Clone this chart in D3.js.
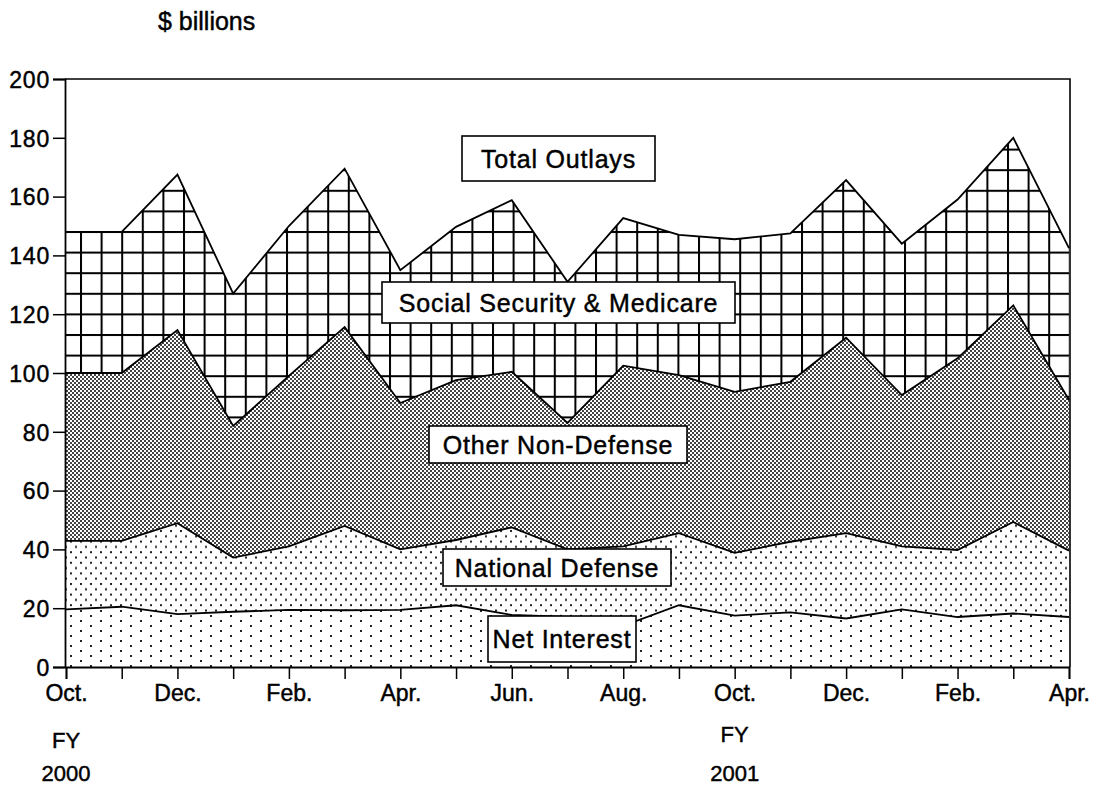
<!DOCTYPE html>
<html>
<head>
<meta charset="utf-8">
<script src="https://cdn.jsdelivr.net/npm/d3@7"></script>
<style>
  html, body { margin: 0; padding: 0; background: #fff; }
  svg { display: block; }
  text { font-family: "Liberation Sans", Arial, Helvetica, sans-serif; fill: #000; stroke: #000; stroke-width: 0.45px; }
</style>
</head>
<body>
<svg id="chart" width="1096" height="785"></svg>
<script>
// ---- Data ----
const months = ["Oct.","Nov.","Dec.","Jan.","Feb.","Mar.","Apr.","May","Jun.","Jul.","Aug.","Sep.",
                "Oct.","Nov.","Dec.","Jan.","Feb.","Mar.","Apr."];
const netInterest      = [19.6,20.5,18.0,18.8,19.4,19.3,19.4,21.0,17.7,17.0,14.0,21.0,17.5,18.6,16.5,19.6,17.0,18.2,17.0];
const nationalDefense  = [23.3,22.4,30.9,18.4,21.6,28.7,20.6,22.2,29.8,23.0,27.0,24.5,21.3,24.0,29.0,21.4,22.8,31.1,22.6];
const otherNonDefense  = [57.1,57.1,65.7,44.8,58.0,67.6,49.8,54.4,52.9,43.0,61.5,53.8,54.8,54.4,66.5,51.5,65.2,73.7,51.2];
const socialSecMed     = [48.0,48.0,52.9,45.0,51.0,53.9,45.2,52.1,58.4,48.0,50.2,47.7,51.9,50.5,53.6,51.5,54.0,57.0,51.7];
const seriesKeys   = ["Net Interest","National Defense","Other Non-Defense","Social Security & Medicare"];
const seriesValues = [netInterest, nationalDefense, otherNonDefense, socialSecMed];
const yTicks = [0,20,40,60,80,100,120,140,160,180,200];
const fyLabels = [["FY","2000"],["FY","2001"]];
const fyIndex = [0, 12];
const yUnit = "$ billions";
const totalLabel = "Total Outlays";

// ---- Build table for d3.stack ----
const table = months.map((m, i) => {
  const row = { i };
  seriesKeys.forEach((k, j) => row[k] = seriesValues[j][i]);
  return row;
});
const stacked = d3.stack().keys(seriesKeys)(table);

// ---- Layout ----
const svg = d3.select("#chart");
const x = d3.scaleLinear().domain([0, months.length - 1]).range([66, 1069]);
const y = d3.scaleLinear().domain([0, 200]).range([667, 79]);

// ---- Patterns ----
const defs = svg.append("defs");
// Net Interest: sparse staggered dots
const pNI = defs.append("pattern").attr("id","pNI").attr("patternUnits","userSpaceOnUse")
  .attr("width",20).attr("height",10);
pNI.append("rect").attr("width",20).attr("height",10).attr("fill","#fff");
pNI.append("rect").attr("x",0).attr("y",0).attr("width",2).attr("height",2).attr("fill","#222");
pNI.append("rect").attr("x",10).attr("y",5).attr("width",2).attr("height",2).attr("fill","#222");
// National Defense: denser staggered dots
const pND = defs.append("pattern").attr("id","pND").attr("patternUnits","userSpaceOnUse")
  .attr("width",10).attr("height",10.6);
pND.append("rect").attr("width",10).attr("height",10.6).attr("fill","#fff");
pND.append("rect").attr("x",0).attr("y",0).attr("width",2).attr("height",2).attr("fill","#222");
pND.append("rect").attr("x",5).attr("y",5.3).attr("width",2).attr("height",2).attr("fill","#222");
// Other Non-Defense: fine checkerboard
const pOND = defs.append("pattern").attr("id","pOND").attr("patternUnits","userSpaceOnUse")
  .attr("width",4).attr("height",4);
pOND.append("rect").attr("width",4).attr("height",4).attr("fill","#fff");
pOND.append("rect").attr("x",0).attr("y",0).attr("width",2).attr("height",2).attr("fill","#444");
pOND.append("rect").attr("x",2).attr("y",2).attr("width",2).attr("height",2).attr("fill","#444");
// Social Security & Medicare: square grid
const g = 20.6;
const pSS = defs.append("pattern").attr("id","pSS").attr("patternUnits","userSpaceOnUse")
  .attr("width",g).attr("height",g).attr("x",80 % g).attr("y",231 % g);
pSS.append("rect").attr("width",g).attr("height",g).attr("fill","#fff");
pSS.append("rect").attr("x",0).attr("y",0).attr("width",2).attr("height",g).attr("fill","#000");
pSS.append("rect").attr("x",0).attr("y",0).attr("width",g).attr("height",2).attr("fill","#000");

const fills = ["url(#pNI)","url(#pND)","url(#pOND)","url(#pSS)"];

// ---- Areas ----
const area = d3.area().x(d => x(d.data.i)).y0(d => y(d[0])).y1(d => y(d[1]));
const line = d3.line().x(d => x(d.data.i)).y(d => y(d[1]));

svg.append("g").selectAll("path").data(stacked).join("path")
  .attr("d", area).attr("fill", (d, i) => fills[i]).attr("stroke", "none");
svg.append("g").selectAll("path").data(stacked).join("path")
  .attr("d", line).attr("fill","none").attr("stroke","#000").attr("stroke-width",1.8)
  .attr("stroke-linejoin","miter");

// ---- Frame ----
svg.append("path")
  .attr("d", `M${x.range()[0]-1},${y(200)}H${x.range()[1]+1}V${y(0)}`)
  .attr("fill","none").attr("stroke","#000").attr("stroke-width",1.6);

// ---- Axes ----
const yAxis = d3.axisLeft(y).tickValues(yTicks).tickSize(12).tickPadding(3).tickFormat(d3.format("d"));
const gy = svg.append("g").attr("transform", `translate(${x.range()[0]-1},0)`).call(yAxis);
gy.select(".domain").attr("stroke","#000").attr("stroke-width",1.8);
gy.selectAll(".tick line").attr("stroke","#000").attr("stroke-width",1.5);
gy.selectAll(".tick text").style("font-size","23px").style("letter-spacing","0.8px").attr("dy","0.36em");

const xAxis = d3.axisBottom(x).tickValues(d3.range(months.length)).tickSize(12).tickPadding(6)
  .tickFormat(i => i % 2 === 0 ? months[i] : "");
const gx = svg.append("g").attr("transform", `translate(0,${y(0)})`).call(xAxis);
gx.select(".domain").attr("stroke","#000").attr("stroke-width",1.8);
gx.selectAll(".tick line").attr("stroke","#000").attr("stroke-width",1.5);
gx.selectAll(".tick text").style("font-size","23px");

// ---- FY labels ----
fyLabels.forEach((lab, k) => {
  const cx = x(fyIndex[k]);
  const base = k === 0 ? 748 : 742;
  svg.append("text").attr("x", cx).attr("y", base).attr("text-anchor","middle")
    .style("font-size","22px").text(lab[0]);
  svg.append("text").attr("x", cx).attr("y", 781).attr("text-anchor","middle")
    .style("font-size","22px").text(lab[1]);
});

// ---- Unit label ----
svg.append("text").attr("x", 158).attr("y", 30).style("font-size","25px").text(yUnit);

// ---- Series label boxes ----
const boxes = [
  { text: totalLabel,  x: 462, y: 136, w: 193, h: 45 },
  { text: seriesKeys[3], x: 382, y: 282, w: 353, h: 41 },
  { text: seriesKeys[2], x: 429, y: 426, w: 258, h: 37 },
  { text: seriesKeys[1], x: 443, y: 549, w: 228, h: 37 },
  { text: seriesKeys[0], x: 488, y: 616, w: 148, h: 46 }
];
const lg = svg.append("g");
boxes.forEach(b => {
  lg.append("rect").attr("x", b.x).attr("y", b.y).attr("width", b.w).attr("height", b.h)
    .attr("fill","#fff").attr("stroke","#000").attr("stroke-width",1.6);
  lg.append("text").attr("x", b.x + b.w / 2).attr("y", b.y + b.h / 2).attr("dy","0.36em")
    .attr("text-anchor","middle").style("font-size","25px").style("letter-spacing","0.8px").text(b.text);
});
</script>
</body>
</html>
